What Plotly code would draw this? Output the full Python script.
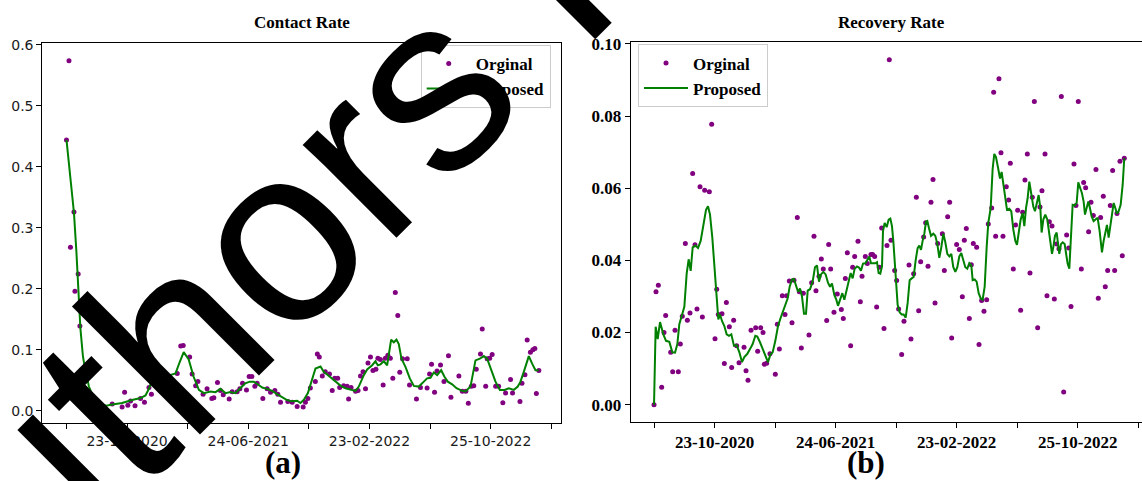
import pandas as pd
import plotly.graph_objects as go

START = pd.Timestamp("2020-06-23")

# ---------------- Contact Rate (a) ----------------
contact_orig_days = [0, 5, 8, 15, 17, 23.5, 27, 92, 112, 117, 123.5, 129, 138, 149, 157, 166, 171,
                     223, 230, 235, 248, 253, 260, 264.5, 275, 283, 292.6, 296.7, 304, 310, 315.5,
                     327.5, 333.6, 343.6, 349, 354.4, 362.4, 367.8, 373.2, 379.2, 383.9, 395.3, 404,
                     410.8, 419.5, 425.5, 430.9, 445.6, 454.4, 464.4, 476.5, 481, 486, 491, 501, 505,
                     509, 515, 521, 529.5, 535, 540, 546, 550, 558, 565, 568, 573, 582, 587, 592, 597,
                     602, 607, 612, 617, 623, 627, 632, 637.5, 642, 647, 652, 657, 662, 667, 671,
                     676.5, 686, 690.6, 704.6, 712.7, 726, 731, 735, 741, 746, 753, 760, 769, 774,
                     790, 797, 804, 809, 815, 820, 825, 833.5, 837, 844, 847, 852, 857, 864, 870,
                     878.5, 884, 894, 898, 913, 917, 923, 927.5, 934, 939, 943, 946, 951]
contact_orig_vals = [0.444, 0.574, 0.268, 0.326, 0.196, 0.224, 0.139, 0.011, 0.006, 0.030, 0.009,
                     0.016, 0.008, 0.020, 0.014, 0.038, 0.027,
                     0.061, 0.106, 0.107, 0.088, 0.060, 0.041, 0.048, 0.027, 0.036, 0.020, 0.021,
                     0.046, 0.033, 0.026, 0.019, 0.031, 0.031, 0.036, 0.045, 0.034, 0.056, 0.056,
                     0.040, 0.045, 0.020, 0.036, 0.030, 0.033, 0.027, 0.014, 0.015, 0.014, 0.007,
                     0.006, 0.014, 0.020, 0.037, 0.048, 0.093, 0.088, 0.057, 0.064, 0.060, 0.033,
                     0.053, 0.053, 0.038, 0.041, 0.040, 0.019, 0.038, 0.032, 0.033, 0.057, 0.064,
                     0.036, 0.078, 0.088, 0.066, 0.068, 0.086, 0.084, 0.042, 0.086, 0.091, 0.086,
                     0.053, 0.194, 0.156, 0.063, 0.085, 0.085, 0.042, 0.019, 0.038, 0.037, 0.060,
                     0.076, 0.030, 0.065, 0.075, 0.048, 0.090, 0.022, 0.057, 0.032, 0.032, 0.012,
                     0.040, 0.041, 0.068, 0.093, 0.134, 0.040, 0.085, 0.086, 0.092, 0.040, 0.040,
                     0.013, 0.029, 0.051, 0.029, 0.015, 0.045, 0.059, 0.116, 0.096, 0.100, 0.102,
                     0.028, 0.066]

contact_prop_days = [0, 1.5, 15, 20, 24, 28, 33, 36, 45, 55, 65, 80, 92, 112, 132, 149, 159, 166,
                     171, 180, 195, 210, 219.5, 228, 236, 246, 256, 266.5, 276.5, 290, 300, 310,
                     320, 330, 340, 350, 360, 369, 377, 385, 394, 404, 414, 424, 434, 444, 454,
                     464.4, 471, 478, 486, 494.6, 501.3, 511.4, 518, 524.8, 532.8, 541.6, 551.6,
                     561.7, 571.8, 581.8, 588.5, 598.6, 605.3, 615.4, 622, 626.8, 632.2, 638.9,
                     645.6, 649.6, 653.6, 659, 664.4, 669, 674.4, 682.5, 691.2, 699.3, 709.3,
                     719.4, 726, 732.8, 739.5, 746.3, 754.3, 761, 767.7, 776.5, 785.2, 796.6,
                     803.4, 813.4, 823.4, 832.2, 840.2, 846.9, 853.6, 863.7, 872.5, 881.8, 890.5,
                     900.6, 908.6, 914, 920.7, 930.8, 937.5, 944.2, 951]
contact_prop_vals = [0.444, 0.432, 0.325, 0.26, 0.20, 0.135, 0.09, 0.075, 0.040, 0.020, 0.012,
                     0.008, 0.010, 0.0126, 0.0175, 0.0207, 0.025, 0.0358, 0.0476, 0.052, 0.055,
                     0.058, 0.061, 0.0798, 0.096, 0.0841, 0.0556, 0.0341, 0.0288, 0.0315, 0.0304,
                     0.0358, 0.0288, 0.0304, 0.0288, 0.0368, 0.0449, 0.0476, 0.0476, 0.0433,
                     0.0379, 0.0358, 0.0325, 0.0272, 0.0218, 0.0175, 0.0153, 0.0164, 0.0126,
                     0.018, 0.0288, 0.053, 0.0691, 0.0723, 0.0637, 0.0594, 0.054, 0.0476, 0.0411,
                     0.0368, 0.0341, 0.0325, 0.0395, 0.0583, 0.0675, 0.0745, 0.081, 0.0745, 0.076,
                     0.081, 0.0745, 0.096, 0.1164, 0.1121, 0.1164, 0.1094, 0.0852, 0.0718, 0.053,
                     0.0406, 0.0395, 0.0476, 0.053, 0.054, 0.0626, 0.0583, 0.0664, 0.0556, 0.0476,
                     0.0433, 0.0368, 0.0325, 0.0315, 0.0395, 0.0825, 0.0852, 0.0895, 0.0852,
                     0.0691, 0.0476, 0.0341, 0.0341, 0.0368, 0.0341, 0.0395, 0.0476, 0.0637,
                     0.0895, 0.0771, 0.0664, 0.0664]

# ---------------- Recovery Rate (b) ----------------
recovery_orig_days = [0, 4, 8.7, 15.4, 20.1, 23.5, 33.6, 37.6, 42.3, 49, 53, 57, 63.1, 67.2, 72.5,
                      77.9, 82.6, 86.6, 92.7, 97.4, 102.1, 111.5, 116.2, 122.9, 126.3, 129.6, 137,
                      141.7, 145.8, 151.8, 156.5, 160.5, 166.6, 171.3, 181.4, 185.4, 189.4, 195.5,
                      204.9, 208.9, 215, 219.7, 222.3, 227, 233.7, 244.5, 248.5, 252.6, 258.6, 264,
                      267.3, 272.7, 278.1, 282.1, 288.8, 292.9, 296.9, 300.9, 312.3, 317.7, 322.4,
                      326.4, 332.5, 337.2, 341.2, 348, 352, 356, 362.7, 369.4, 377.5, 381.5, 385.6,
                      389.6, 396.3, 400.3, 404.4, 411.1, 415.8, 419.2, 425.9, 429.9, 437.3, 440.6,
                      444.7, 448.7, 454.1, 458.8, 463.5, 469.5, 474.2, 477.6, 485, 489, 493, 499.1,
                      503.8, 513.9, 517.9, 523.3, 528.7, 533.4, 537.4, 543.4, 547.5, 552.2, 558.2,
                      562.3, 566.3, 571.7, 581.1, 585.1, 591.8, 595.8, 599.9, 609.9, 615.3, 621.4,
                      625.4, 629.4, 635.5, 639.5, 643.5, 650.2, 655, 660.3, 665, 670.4, 673.7,
                      680.5, 684.5, 688.5, 695.2, 699.3, 703.3, 710, 714.7, 718.1, 724.1, 728.8,
                      732.9, 738.9, 743, 747.6, 752.4, 757.7, 762.4, 766.5, 773.2, 777.9, 781.9,
                      788, 792, 796.7, 802.1, 806.8, 811.5, 816.2, 820.9, 825.6, 831.6, 835.7,
                      840.4, 846.4, 850.4, 855.1, 861.2, 865.9, 869.9, 875.9, 880.7, 885.4, 890.7,
                      895.4, 900.1, 905.5, 909.5, 914.3, 919.6, 924.3, 928.4, 933.1, 939.1, 943.8,
                      947.8]
recovery_orig_vals = [0.0, 0.0313, 0.0331, 0.0048, 0.0200, 0.0247, 0.0145, 0.0091, 0.0206, 0.0091,
                      0.0168, 0.0245, 0.0447, 0.0234, 0.0254, 0.0641, 0.0443, 0.0265, 0.0604,
                      0.0243, 0.0594, 0.0590, 0.0777, 0.0183, 0.0320, 0.0250, 0.0252, 0.0114,
                      0.0283, 0.0216, 0.0103, 0.0234, 0.0163, 0.0116, 0.0159, 0.0094, 0.0068,
                      0.0206, 0.0213, 0.0148, 0.0213, 0.0200, 0.0112, 0.0115, 0.0141, 0.0084,
                      0.0223, 0.0154, 0.0302, 0.0250, 0.0302, 0.0343, 0.0227, 0.0345, 0.0519,
                      0.0313, 0.0157, 0.0309, 0.0193, 0.0338, 0.0467, 0.0316, 0.0356, 0.0404,
                      0.0376, 0.0233, 0.0444, 0.0376, 0.0256, 0.0307, 0.0264, 0.0239, 0.0350,
                      0.0421, 0.0163, 0.0381, 0.0411, 0.0453, 0.0285, 0.0356, 0.0411, 0.0391,
                      0.0416, 0.0416, 0.0411, 0.0271, 0.0381, 0.0490, 0.0211, 0.0441, 0.0956,
                      0.0456, 0.0372, 0.0344, 0.0265, 0.0139, 0.0231, 0.0387, 0.0182, 0.0363,
                      0.0575, 0.0260, 0.0396, 0.0465, 0.0504, 0.0384, 0.0561, 0.0624, 0.0282,
                      0.0447, 0.0474, 0.0372, 0.0521, 0.0561, 0.0185, 0.0444, 0.0430, 0.0299,
                      0.0456, 0.0488, 0.0239, 0.0388, 0.0447, 0.0436, 0.0167, 0.0289, 0.0259,
                      0.0291, 0.0501, 0.0545, 0.0866, 0.0467, 0.0903, 0.0698, 0.0467, 0.0604,
                      0.0567, 0.0669, 0.0376, 0.0498, 0.0539, 0.0262, 0.0533, 0.0623, 0.0695,
                      0.0365, 0.0575, 0.0840, 0.0213, 0.0548, 0.0593, 0.0695, 0.0302, 0.0507,
                      0.0495, 0.0293, 0.0445, 0.0432, 0.0854, 0.0035, 0.0470, 0.0434, 0.0272,
                      0.0667, 0.0552, 0.0840, 0.0376, 0.0616, 0.0601, 0.0479, 0.0561, 0.0524,
                      0.0652, 0.0295, 0.0519, 0.0578, 0.0327, 0.0372, 0.0552, 0.0649, 0.0372,
                      0.0530, 0.0675, 0.0413, 0.0683]

recovery_prop_days = [0, 3.3, 7.4, 12.1, 18.8, 24.2, 30.9, 36.9, 42.3, 47, 51, 56.4, 61.1, 65.8,
                      69.8, 73.9, 77.9, 83.3, 88.7, 94, 99.4, 104.8, 108.8, 112.8, 117.5, 122.2,
                      125.6, 129.6, 133, 137, 141.7, 146.4, 151.1, 155.8, 161.2, 166.6, 172,
                      177.3, 182, 188.1, 193.4, 198.8, 204.2, 208.2, 213.6, 219, 224.3, 229.7,
                      234.4, 239.1, 244.5, 249.9, 255.3, 260.6, 265.3, 269.4, 273.4, 278.1,
                      282.1, 286.2, 290.2, 294.2, 298.2, 302.3, 306.3, 309.7, 314.4, 319.7,
                      324.4, 328.5, 332.5, 336.5, 341.2, 345.9, 350.6, 354.7, 358.7, 363.4,
                      367.4, 370.8, 374.8, 379.5, 383.6, 388.3, 392.3, 396.3, 400.3, 404.4,
                      409.1, 413.1, 417.1, 421.2, 425.9, 429.9, 433.9, 437.3, 442, 446, 449.4,
                      452.7, 456.1, 459.5, 461.5, 464.8, 468.9, 472.9, 476.3, 479.6, 482.3, 485,
                      487.7, 491, 495.1, 499.1, 503.1, 507.2, 511.2, 515.2, 519.3, 523.3, 527.3,
                      531.3, 534.7, 538.1, 541.4, 544.8, 548.1, 550.8, 554.2, 558.2, 562.9,
                      566.9, 571, 575, 579, 583.1, 587.1, 591.1, 595.2, 599.2, 603.2, 607.3,
                      611.3, 615.3, 619.3, 623.4, 627.4, 631.4, 635.5, 639.5, 642.2, 646.2,
                      650.2, 654.3, 658.3, 662.3, 666.4, 670.4, 673.7, 678.5, 682.5, 685.8,
                      689.2, 693.2, 697.3, 700.6, 704.7, 708, 711.4, 716.1, 720.1, 724.1, 728.2,
                      731.5, 734.9, 738.9, 743, 746.3, 749.7, 753, 756.4, 760.4, 764.4, 767.8,
                      771.2, 775.2, 778.6, 781.2, 784.6, 788.6, 792.7, 796, 799.4, 802.1, 804.7,
                      808.1, 811.5, 814.2, 816.8, 820.2, 823.6, 827.6, 831, 833.6, 837, 840.4,
                      843.7, 847.7, 851.8, 855.1, 858.5, 862.5, 865.9, 868.6, 871.9, 875.3,
                      878.6, 882, 886, 890.1, 894.1, 898.1, 902.8, 906.2, 909.5, 912.9, 916.3,
                      919, 923, 926.4, 929.7, 933.1, 936.4, 940.5, 944.5, 947.8]
recovery_prop_vals = [0.0, 0.0216, 0.0182, 0.0229, 0.0195, 0.0177, 0.0174, 0.0145, 0.0144, 0.0168,
                      0.0223, 0.0250, 0.0271, 0.0363, 0.0403, 0.0371, 0.0436, 0.0441, 0.0434,
                      0.0454, 0.0500, 0.0540, 0.0550, 0.0527, 0.0463, 0.0372, 0.0309, 0.0236,
                      0.0250, 0.0232, 0.0218, 0.0195, 0.0191, 0.0195, 0.0163, 0.0165, 0.0145,
                      0.0118, 0.0132, 0.0141, 0.0154, 0.0168, 0.0191, 0.0189, 0.0173, 0.0156,
                      0.0138, 0.0118, 0.0138, 0.0145, 0.0177, 0.0218, 0.0241, 0.0262, 0.0280,
                      0.0295, 0.0327, 0.0347, 0.0348, 0.0327, 0.0313, 0.0322, 0.0300, 0.0252,
                      0.0252, 0.0316, 0.0320, 0.0341, 0.0381, 0.0386, 0.0341, 0.0361, 0.0368,
                      0.0361, 0.0338, 0.0327, 0.0336, 0.0304, 0.0291, 0.0274, 0.0291, 0.0309,
                      0.0291, 0.0320, 0.0345, 0.0365, 0.0350, 0.0377, 0.0383, 0.0380, 0.0371,
                      0.0391, 0.0392, 0.0401, 0.0411, 0.0392, 0.0391, 0.0392, 0.0395, 0.0365,
                      0.0363, 0.0383, 0.0481, 0.0504, 0.0492, 0.0513, 0.0516, 0.0495, 0.0454,
                      0.0391, 0.0327, 0.0277, 0.0256, 0.0250, 0.0250, 0.0241, 0.0282, 0.0345,
                      0.0350, 0.0354, 0.0400, 0.0434, 0.0441, 0.0429, 0.0454, 0.0474, 0.0507,
                      0.0509, 0.0489, 0.0468, 0.0474, 0.0468, 0.0445, 0.0407, 0.0436, 0.0474,
                      0.0450, 0.0418, 0.0411, 0.0418, 0.0381, 0.0368, 0.0381, 0.0411, 0.0420,
                      0.0400, 0.0381, 0.0377, 0.0392, 0.0386, 0.0345, 0.0347, 0.0341, 0.0309,
                      0.0295, 0.0291, 0.0327, 0.0436, 0.0504, 0.0545, 0.0654, 0.0695, 0.0686,
                      0.0658, 0.0627, 0.0645, 0.0609, 0.0574, 0.0540, 0.0543, 0.0536, 0.0486,
                      0.0454, 0.0443, 0.0481, 0.0513, 0.0531, 0.0495, 0.0545, 0.0572, 0.0618,
                      0.0581, 0.0549, 0.0536, 0.0559, 0.0581, 0.0545, 0.0477, 0.0513, 0.0527,
                      0.0513, 0.0477, 0.0450, 0.0418, 0.0436, 0.0468, 0.0477, 0.0441, 0.0418,
                      0.0445, 0.0450, 0.0445, 0.0418, 0.0391, 0.0377, 0.0454, 0.0554, 0.0552,
                      0.0559, 0.0616, 0.0604, 0.0586, 0.0563, 0.0527, 0.0545, 0.0563, 0.0545,
                      0.0522, 0.0509, 0.0513, 0.0518, 0.0481, 0.0422, 0.0454, 0.0472, 0.0498,
                      0.0463, 0.0490, 0.0531, 0.0559, 0.0545, 0.0529, 0.0536, 0.0554, 0.0609,
                      0.0683]

# ---------------- ticks / labels ----------------
TICK_DAYS = [0, 122, 244, 366, 488, 610, 732, 854, 976]
TICK_LABELS = ["", "23-10-2020", "", "24-06-2021", "", "23-02-2022", "", "25-10-2022", ""]
CONTACT_YTICKS = [0.0, 0.1, 0.2, 0.3, 0.4, 0.5, 0.6]
RECOVERY_YTICKS = [0.00, 0.02, 0.04, 0.06, 0.08, 0.10]
SERIES_NAMES = ["Orginal", "Proposed"]
TITLES = ["Contact Rate", "Recovery Rate"]
PANEL_LABELS = ["(a)", "(b)"]
WATERMARK = "Authors Preprint"


def to_dates(days):
    return [START + pd.Timedelta(days=float(d)) for d in days]


W, H = 1142, 481
PURPLE = "#800080"
GREEN = "#008000"
SERIF = "Liberation Serif"

fig = go.Figure()

fig.add_trace(go.Scatter(x=to_dates(contact_orig_days), y=contact_orig_vals, mode="markers",
                         name=SERIES_NAMES[0], marker=dict(color=PURPLE, size=5),
                         xaxis="x", yaxis="y", legend="legend"))
fig.add_trace(go.Scatter(x=to_dates(contact_prop_days), y=contact_prop_vals, mode="lines",
                         name=SERIES_NAMES[1], line=dict(color=GREEN, width=2),
                         xaxis="x", yaxis="y", legend="legend"))
fig.add_trace(go.Scatter(x=to_dates(recovery_orig_days), y=recovery_orig_vals, mode="markers",
                         name=SERIES_NAMES[0], marker=dict(color=PURPLE, size=5),
                         xaxis="x2", yaxis="y2", legend="legend2"))
fig.add_trace(go.Scatter(x=to_dates(recovery_prop_days), y=recovery_prop_vals, mode="lines",
                         name=SERIES_NAMES[1], line=dict(color=GREEN, width=2),
                         xaxis="x2", yaxis="y2", legend="legend2"))

tick_dates = to_dates(TICK_DAYS)

left_tick_font = dict(family="DejaVu Sans", size=14, color="#1a1a1a")
right_tick_font = dict(family=SERIF, size=17, color="black", weight="bold")

common_axis = dict(showline=True, linecolor="black", linewidth=1, ticks="outside",
                   ticklen=5, tickwidth=1, tickcolor="black", showgrid=False, zeroline=False)

legend_font = dict(family=SERIF, size=17, color="black", weight="bold")

fig.update_layout(
    width=W, height=H, autosize=False,
    margin=dict(l=0, r=0, t=0, b=0),
    paper_bgcolor="white", plot_bgcolor="white",
    xaxis=dict(domain=[42.3 / W, 561 / W], type="date",
               range=to_dates([-48.7, 995.6]), tickmode="array",
               tickvals=tick_dates, ticktext=TICK_LABELS, tickfont=left_tick_font,
               mirror=True, anchor="y", **common_axis),
    yaxis=dict(domain=[(H - 422) / H, (H - 36) / H], range=[-0.0202, 0.6024],
               tickmode="array", tickvals=CONTACT_YTICKS, tickformat=".1f",
               tickfont=left_tick_font, mirror=True, anchor="x", **common_axis),
    xaxis2=dict(domain=[630.7 / W, 1.0], type="date",
                range=to_dates([-47, 983.5]), tickmode="array",
                tickvals=tick_dates, ticktext=TICK_LABELS, tickfont=right_tick_font,
                mirror=True, anchor="y2", **common_axis),
    yaxis2=dict(domain=[(H - 421) / H, (H - 35) / H], range=[-0.0048, 0.1004],
                tickmode="array", tickvals=RECOVERY_YTICKS, tickformat=".2f",
                tickfont=right_tick_font, mirror=False, anchor="x2", **common_axis),
    legend=dict(x=420.7 / W, y=(H - 37.5) / H, xanchor="left", yanchor="top",
                bgcolor="rgba(255,255,255,0)", bordercolor="#cccccc", borderwidth=1,
                font=legend_font, itemwidth=44, tracegroupgap=0),
    legend2=dict(x=638 / W, y=(H - 37) / H, xanchor="left", yanchor="top",
                 bgcolor="rgba(255,255,255,0)", bordercolor="#cccccc", borderwidth=1,
                 font=legend_font, itemwidth=44, tracegroupgap=0),
    showlegend=True,
)

title_font = dict(family=SERIF, size=17, color="black", weight="bold")
panel_font = dict(family=SERIF, size=31, color="black", weight="bold")

# watermark geometry: baseline start point, 45 degree rise, font size
WM_SIZE = 250
WM_EM_WIDTH = 7.225          # advance width of the watermark string in em (Liberation Sans)
start_x, start_y = -77.7, 704.7
half = WM_EM_WIDTH * WM_SIZE / 2
cx = start_x + half * 0.7071 - 0.3465 * WM_SIZE * 0.7071
cy = start_y - half * 0.7071 - 0.3465 * WM_SIZE * 0.7071

annotations = [
    dict(text=TITLES[0], x=301.5 / W, y=(H - 15) / H, xref="paper", yref="paper",
         showarrow=False, font=title_font, xanchor="center", yanchor="middle"),
    dict(text=TITLES[1], x=891 / W, y=(H - 15) / H, xref="paper", yref="paper",
         showarrow=False, font=title_font, xanchor="center", yanchor="middle"),
    dict(text=PANEL_LABELS[0], x=283.3 / W, y=0, xref="paper", yref="paper",
         showarrow=False, font=panel_font, xanchor="center", yanchor="bottom", borderpad=0),
    dict(text=PANEL_LABELS[1], x=866 / W, y=0, xref="paper", yref="paper",
         showarrow=False, font=panel_font, xanchor="center", yanchor="bottom", borderpad=0),
    dict(text=WATERMARK, x=cx / W, y=(H - cy) / H, xref="paper", yref="paper",
         showarrow=False, textangle=-45, xanchor="center", yanchor="middle",
         font=dict(family="Liberation Sans", size=WM_SIZE, color="black")),
]
fig.update_layout(annotations=annotations)

fig.write_html(
    "out.html",
    config={"displayModeBar": False},
    post_script="document.body.style.margin='0';document.body.style.overflow='hidden';",
)
